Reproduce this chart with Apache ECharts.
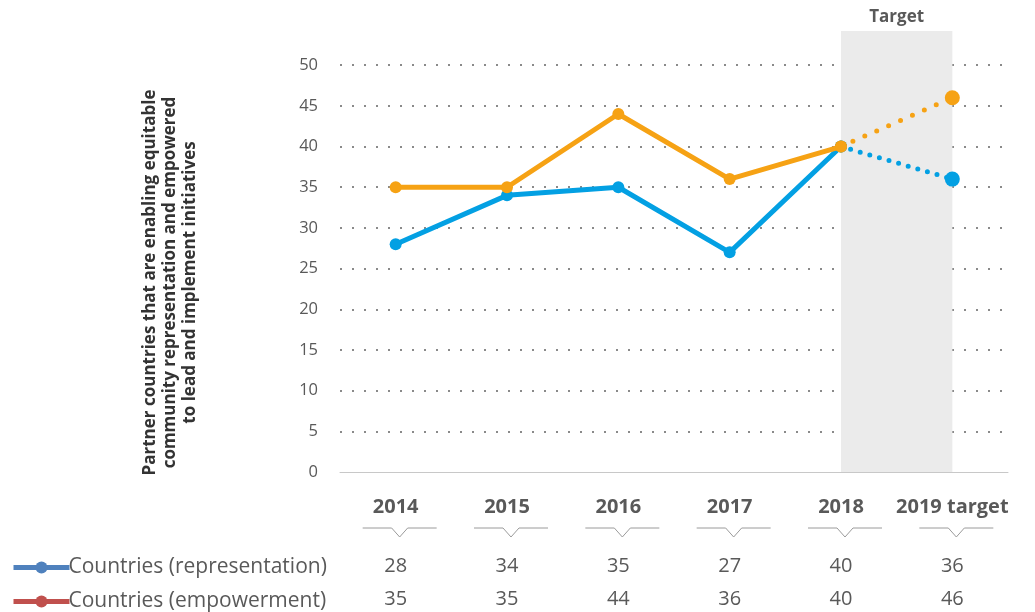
<!DOCTYPE html>
<html lang="en">
<head>
<meta charset="utf-8">
<title>Partner countries</title>
<script src="https://cdn.jsdelivr.net/npm/echarts@6/dist/echarts.min.js"></script>
<style>
  html, body { margin: 0; padding: 0; background: #fff; }
</style>
</head>
<body>
<div id="main" style="width:1035px;height:612px"></div>
<script type="text/javascript">
// data
var years = ['2014', '2015', '2016', '2017', '2018', '2019 target'];
var representation = [28, 34, 35, 27, 40, 36];
var empowerment = [35, 35, 44, 36, 40, 46];
var lastActual = 4; // index of 2018, after that it is the target

var repName = 'Countries (representation)';
var empName = 'Countries (empowerment)';

function actualPart(arr) {
    return arr.map(function (v, i) { return i <= lastActual ? v : '-'; });
}
function targetPart(arr) {
    return arr.map(function (v, i) { return i >= lastActual ? v : '-'; });
}

var blue = '#03a0e3';
var orange = '#f6a214';
var grey = '#595959';

var myChart = echarts.init(document.getElementById('main'));

var option = {
    animation: false,
    textStyle: { fontFamily: 'Open Sans' },
    grid: { left: 340, right: 27, top: 31, bottom: 140 },
    legend: {
        orient: 'vertical',
        left: 6,
        top: 549,
        height: 90,
        itemWidth: 56,
        itemHeight: 15,
        itemGap: 7,
        textStyle: { fontSize: 21, lineHeight: 27, color: grey, padding: [0, 0, 0, -6] },
        data: [
            { name: repName, itemStyle: { color: '#4f81bd' }, lineStyle: { color: '#4f81bd', width: 5 } },
            { name: empName, itemStyle: { color: '#c0504d' }, lineStyle: { color: '#c0504d', width: 5 } }
        ]
    },
    xAxis: [{
        type: 'category',
        data: years,
        axisLine: { show: true, lineStyle: { color: '#c8c8c8', width: 1 } },
        axisTick: { show: false },
        axisLabel: { interval: 0, margin: 25, fontSize: 20, fontWeight: 'bold', color: grey }
    }, {
        type: 'category',
        position: 'bottom',
        offset: 76,
        data: representation.map(String),
        axisLine: { show: false },
        axisTick: { show: false },
        axisLabel: { interval: 0, margin: 8, fontSize: 20, color: grey }
    }, {
        type: 'category',
        position: 'bottom',
        offset: 109,
        data: empowerment.map(String),
        axisLine: { show: false },
        axisTick: { show: false },
        axisLabel: { interval: 0, margin: 8, fontSize: 20, color: grey }
    }],
    yAxis: {
        type: 'value',
        min: 0,
        max: 54.2,
        interval: 5,
        name: 'Partner countries that are enabling equitable\ncommunity representation and empowered\nto lead and implement initiatives',
        nameLocation: 'middle',
        nameGap: 140,
        nameTextStyle: { fontSize: 17, fontWeight: 'bold', color: '#333', lineHeight: 20, padding: [0, 62, 0, 0] },
        axisLine: { show: false },
        axisTick: { show: false },
        axisLabel: {
            margin: 22, fontSize: 16.5, color: grey, showMaxLabel: false,
            formatter: function (v) { return v % 5 === 0 && v <= 50 ? String(v) : ''; }
        },
        splitLine: {
            show: true, showMinLine: false, showMaxLine: false,
            lineStyle: { color: '#8a8a8a', width: 2, type: [2, 10] }
        }
    },
    series: [{
        name: repName,
        type: 'line',
        data: actualPart(representation),
        symbol: 'circle',
        symbolSize: 12,
        itemStyle: { color: blue },
        lineStyle: { color: blue, width: 5 },
        z: 3,
        markArea: {
            silent: true,
            itemStyle: { color: '#ebebeb' },
            label: { show: true, position: 'top', distance: 5, fontSize: 17, fontWeight: 'bold', color: grey },
            data: [[{ name: 'Target', xAxis: years[lastActual] }, { xAxis: years[years.length - 1] }]]
        }
    }, {
        name: repName,
        type: 'line',
        data: targetPart(representation),
        symbol: 'circle',
        symbolSize: function (v, p) { return p.dataIndex === years.length - 1 ? 15 : 12; },
        itemStyle: { color: blue },
        lineStyle: { color: blue, width: 5, type: [0, 10], cap: 'round' },
        z: 3
    }, {
        name: empName,
        type: 'line',
        data: actualPart(empowerment),
        symbol: 'circle',
        symbolSize: 12,
        itemStyle: { color: orange },
        lineStyle: { color: orange, width: 5 },
        z: 4
    }, {
        name: empName,
        type: 'line',
        data: targetPart(empowerment),
        symbol: 'circle',
        symbolSize: function (v, p) { return p.dataIndex === years.length - 1 ? 15 : 12; },
        itemStyle: { color: orange },
        lineStyle: { color: orange, width: 5, type: [0, 13], cap: 'round' },
        z: 4
    }]
};

myChart.setOption(option);

// little chevrons under the year labels, placed from the axis scale
var baseY = myChart.convertToPixel({ yAxisIndex: 0 }, 0) + 56;
var chevrons = years.map(function (y) {
    var cx = myChart.convertToPixel({ xAxisIndex: 0 }, y) + 4;
    return {
        type: 'polyline',
        silent: true,
        shape: { points: [[cx - 37, baseY], [cx - 8, baseY], [cx, baseY + 9], [cx + 8, baseY], [cx + 37, baseY]] },
        style: { stroke: '#9a9a9a', lineWidth: 1, fill: null }
    };
});
myChart.setOption({ graphic: chevrons });
</script>
</body>
</html>
